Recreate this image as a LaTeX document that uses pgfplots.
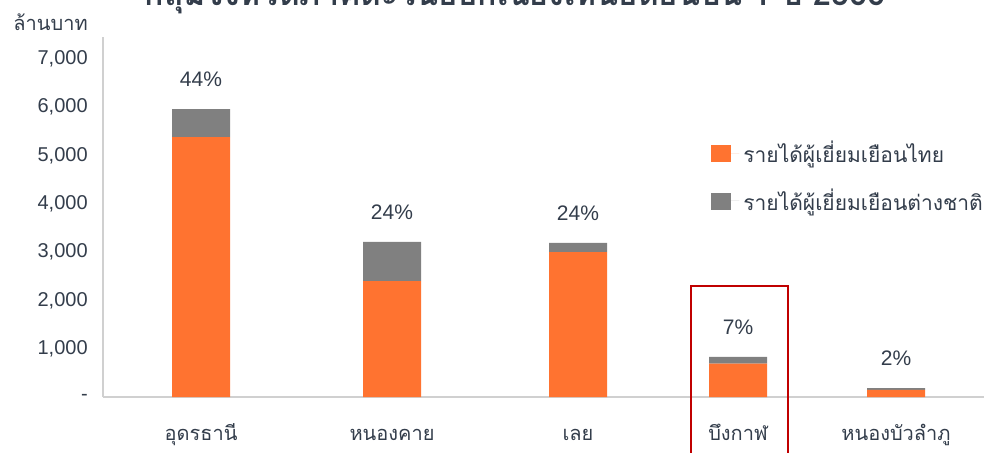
\documentclass[border=0pt]{standalone}
\usepackage{fontspec}
\usepackage{graphicx}
\usepackage{pgfplots}
\pgfplotsset{compat=1.18}
\setmainfont{Liberation Sans}
\newfontfamily\thaifont[Script=Thai]{Loma}

\definecolor{thaiorange}{HTML}{FF7330}
\definecolor{forgray}{HTML}{808080}
\definecolor{axisgray}{HTML}{D0D0D0}
\definecolor{textc}{HTML}{333D4B}
\definecolor{boxred}{HTML}{C00000}

\begin{document}
\begin{tikzpicture}
% page = 984x452 px, 1 px = 0.5pt
\useasboundingbox (0,0) rectangle (492pt,226pt);
\clip (0,0) rectangle (492pt,226pt);

% title is cut at the top edge, as in the reference
\node[anchor=base, text=textc, inner sep=0pt] at (257.5pt,223.5pt)
  {\resizebox{370pt}{!}{\thaifont\bfseries กลุ่มจังหวัดภาคตะวันออกเฉียงเหนือตอนบน 1 ปี 2566}};
\node[anchor=base west, text=textc, inner sep=0pt, font=\thaifont\fontsize{10}{12}\selectfont]
  at (6.5pt,211pt) {ล้านบาท};

\begin{axis}[
    at={(51.5pt,27.5pt)}, anchor=south west,
    scale only axis,
    width=440.5pt, height=180pt,
    xmin=103, xmax=984,
    ymin=0, ymax=7450,
    ybar stacked,
    bar width=58,
    axis x line=bottom, axis y line=left,
    axis line style={-, color=axisgray, line width=0.8pt},
    xtick={201,392,578,738,896},
    xticklabels={อุดรธานี,หนองคาย,เลย,บึงกาฬ,หนองบัวลำภู},
    xticklabel style={font=\thaifont\fontsize{10}{12}\selectfont, text=textc, anchor=base, yshift=-19.5pt},
    ytick={0,1000,2000,3000,4000,5000,6000,7000},
    yticklabels={{-},{1,000},{2,000},{3,000},{4,000},{5,000},{6,000},{7,000}},
    yticklabel style={font=\fontsize{10}{12}\selectfont, text=textc, xshift=-2pt},
    major tick style={draw=none},
    clip=false,
    legend cell align=left,
    legend style={at={(axis cs:705,5470)}, anchor=north west, draw=none, fill=none,
      font=\thaifont\fontsize{10.5}{12.5}\selectfont, text=textc,
      row sep=7.5pt, nodes={inner sep=2pt}},
    legend image code/.code={\fill[#1] (0pt,-4.5pt) rectangle (10pt,4pt); \path (0pt,0pt) -- (14pt,0pt);},
  ]
  \addplot[fill=thaiorange, draw=none] coordinates {
    (201,5380) (392,2400) (578,3000) (738,690) (896,150)
  };
  \addlegendentry{รายได้ผู้เยี่ยมเยือนไทย}
  \addplot[fill=forgray, draw=none] coordinates {
    (201,580) (392,810) (578,190) (738,140) (896,35)
  };
  \addlegendentry{รายได้ผู้เยี่ยมเยือนต่างชาติ}
  % near-zero layer that carries the share labels at the top of each stack
  \addplot[draw=none, fill=none, forget plot,
    point meta=explicit symbolic,
    nodes near coords,
    nodes near coords style={font=\fontsize{10.5}{12}\selectfont, text=textc, anchor=south, yshift=7.5pt}]
    coordinates {
    (201,1) [44\%] (392,1) [24\%] (578,1) [24\%] (738,1) [7\%] (896,1) [2\%]
  };
  \draw[boxred, line width=1pt] (axis cs:691,2298) rectangle (axis cs:788,-2000);
\end{axis}
\end{tikzpicture}
\end{document}
